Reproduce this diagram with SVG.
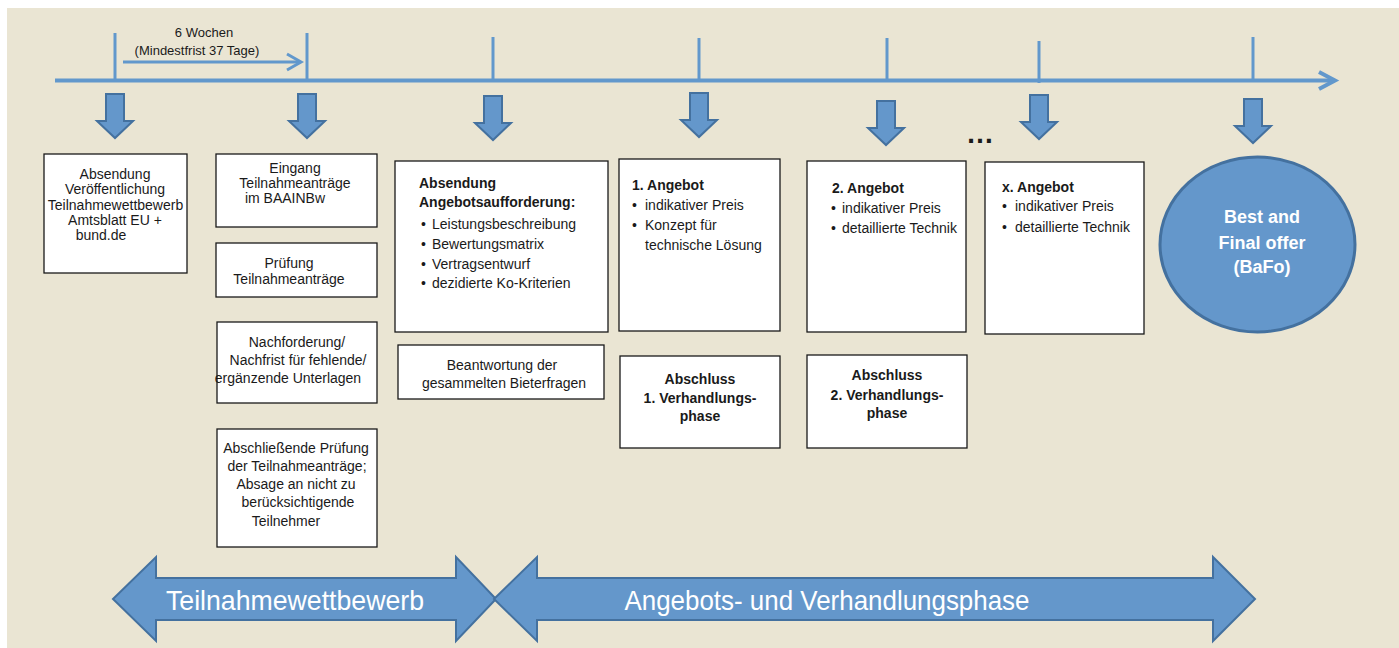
<svg xmlns="http://www.w3.org/2000/svg" width="1399" height="648" viewBox="0 0 1399 648">
<defs>
<style>
.bg{fill:#EAE5D3}
.box{fill:#ffffff;stroke:#1a1a1a;stroke-width:1.3}
.t{font-family:"Liberation Sans",Arial,sans-serif;font-size:14px;fill:#1a1a1a}
.c{text-anchor:middle}
.b{font-weight:bold}
.tl{fill:none;stroke:#6298CC;stroke-width:4}
.tk{fill:none;stroke:#6298CC;stroke-width:3}
.blk{fill:#6497CB;stroke:#44719F;stroke-width:2;stroke-linejoin:miter}
.w{font-family:"Liberation Sans",Arial,sans-serif;fill:#ffffff}
</style>
<path id="darr" d="M-9,0 H9 V27 H18 L0,44 L-18,27 H-9 Z"/>
</defs>
<rect class="bg" x="7" y="8" width="1392" height="640"/>

<g id="connectors">
  <line class="tl" x1="55" y1="80.5" x2="1333" y2="80.5"/>
  <polyline class="tl" points="1319,72 1335,80.5 1319,89"/>
  <line class="tk" x1="115" y1="33" x2="115" y2="80"/>
  <line class="tk" x1="307" y1="33" x2="307" y2="80"/>
  <line class="tk" x1="493" y1="37" x2="493" y2="80"/>
  <line class="tk" x1="699" y1="38" x2="699" y2="80"/>
  <line class="tk" x1="887" y1="38" x2="887" y2="80"/>
  <line class="tk" x1="1039" y1="41" x2="1039" y2="83"/>
  <line class="tk" x1="1253" y1="37" x2="1253" y2="80"/>
  <line class="tk" x1="123" y1="62" x2="300" y2="62"/>
  <polyline class="tk" points="287,54 301,62 287,70"/>
  <use href="#darr" class="blk" x="115" y="94"/>
  <use href="#darr" class="blk" x="307" y="94"/>
  <use href="#darr" class="blk" x="493" y="96"/>
  <use href="#darr" class="blk" x="699" y="93"/>
  <use href="#darr" class="blk" x="886" y="101"/>
  <use href="#darr" class="blk" x="1039" y="95"/>
  <use href="#darr" class="blk" x="1253" y="99"/>
</g>

<g id="label-6wochen">
  <text class="t c" x="204" y="37" style="font-size:13px">6 Wochen</text>
  <text class="t c" x="197" y="55" style="font-size:13px">(Mindestfrist 37 Tage)</text>
</g>

<g id="ellipsis">
  <text class="t b" x="966" y="143" style="font-size:28px">…</text>
</g>

<g id="box-absendung">
  <rect class="box" x="44" y="154" width="143" height="119"/>
  <text class="t c" x="115" y="179">Absendung</text>
  <text class="t c" x="115" y="194">Veröffentlichung</text>
  <text class="t c" x="115.5" y="210">Teilnahmewettbewerb</text>
  <text class="t c" x="115" y="225">Amtsblatt EU +</text>
  <text class="t c" x="101" y="240">bund.de</text>
</g>

<g id="box-eingang">
  <rect class="box" x="216" y="154" width="161" height="73"/>
  <text class="t c" x="295" y="173">Eingang</text>
  <text class="t c" x="295" y="188">Teilnahmeanträge</text>
  <text class="t c" x="285" y="203">im BAAINBw</text>
</g>

<g id="box-pruefung">
  <rect class="box" x="216" y="243" width="161" height="54"/>
  <text class="t c" x="289" y="268">Prüfung</text>
  <text class="t c" x="289" y="284">Teilnahmeanträge</text>
</g>

<g id="box-nachforderung">
  <rect class="box" x="217" y="322" width="160" height="81"/>
  <text class="t c" x="297" y="347">Nachforderung/</text>
  <text class="t c" x="298" y="365">Nachfrist für fehlende/</text>
  <text class="t c" x="288" y="383">ergänzende Unterlagen</text>
</g>

<g id="box-abschliessende">
  <rect class="box" x="217" y="429" width="160" height="118"/>
  <text class="t c" x="296" y="453">Abschließende Prüfung</text>
  <text class="t c" x="297" y="471">der Teilnahmeanträge;</text>
  <text class="t c" x="296" y="489">Absage an nicht zu</text>
  <text class="t c" x="298" y="507">berücksichtigende</text>
  <text class="t c" x="286" y="526">Teilnehmer</text>
</g>

<g id="box-angebotsaufforderung">
  <rect class="box" x="395" y="161" width="213" height="171"/>
  <text class="t b" x="419" y="188">Absendung</text>
  <text class="t b" x="419" y="207">Angebotsaufforderung:</text>
  <text class="t" x="421" y="229">•</text><text class="t" x="432" y="229">Leistungsbeschreibung</text>
  <text class="t" x="421" y="249">•</text><text class="t" x="432" y="249">Bewertungsmatrix</text>
  <text class="t" x="421" y="269">•</text><text class="t" x="432" y="269">Vertragsentwurf</text>
  <text class="t" x="421" y="288">•</text><text class="t" x="432" y="288">dezidierte Ko-Kriterien</text>
</g>

<g id="box-bieterfragen">
  <rect class="box" x="398" y="345" width="206" height="54"/>
  <text class="t c" x="502" y="370">Beantwortung der</text>
  <text class="t c" x="504" y="388">gesammelten Bieterfragen</text>
</g>

<g id="box-angebot1">
  <rect class="box" x="619" y="159" width="161" height="172"/>
  <text class="t b" x="632" y="190">1. Angebot</text>
  <text class="t" x="632" y="210">•</text><text class="t" x="645" y="210">indikativer Preis</text>
  <text class="t" x="632" y="230">•</text><text class="t" x="645" y="230">Konzept für</text>
  <text class="t" x="645" y="250">technische Lösung</text>
</g>

<g id="box-abschluss1">
  <rect class="box" x="620" y="356" width="160" height="92"/>
  <text class="t b c" x="700" y="384">Abschluss</text>
  <text class="t b c" x="700" y="403">1. Verhandlungs-</text>
  <text class="t b c" x="700" y="421">phase</text>
</g>

<g id="box-angebot2">
  <rect class="box" x="807" y="161" width="159" height="171"/>
  <text class="t b" x="832" y="193">2. Angebot</text>
  <text class="t" x="831" y="213">•</text><text class="t" x="842" y="213">indikativer Preis</text>
  <text class="t" x="831" y="233">•</text><text class="t" x="842" y="233">detaillierte Technik</text>
</g>

<g id="box-abschluss2">
  <rect class="box" x="807" y="355" width="160" height="93"/>
  <text class="t b c" x="887" y="380">Abschluss</text>
  <text class="t b c" x="887" y="400">2. Verhandlungs-</text>
  <text class="t b c" x="887" y="418">phase</text>
</g>

<g id="box-angebotx">
  <rect class="box" x="985" y="162" width="159" height="172"/>
  <text class="t b" x="1002" y="192">x. Angebot</text>
  <text class="t" x="1002" y="211">•</text><text class="t" x="1015" y="211">indikativer Preis</text>
  <text class="t" x="1002" y="232">•</text><text class="t" x="1015" y="232">detaillierte Technik</text>
</g>

<g id="node-bafo">
  <ellipse cx="1257.5" cy="244.5" rx="97.5" ry="87.5" fill="#6497CB" stroke="#44719F" stroke-width="3"/>
  <text class="w b c" x="1262" y="223" style="font-size:18px">Best and</text>
  <text class="w b c" x="1262" y="249" style="font-size:18px">Final offer</text>
  <text class="w b c" x="1262" y="273" style="font-size:18px">(BaFo)</text>
</g>

<g id="phase-teilnahme">
  <path class="blk" d="M113,599 L156,557 V578 H456 V557 L496,599 L456,641 V620 H156 V641 Z" stroke-width="3"/>
  <text class="w c" x="295" y="610" style="font-size:28px" textLength="258" lengthAdjust="spacingAndGlyphs">Teilnahmewettbewerb</text>
</g>

<g id="phase-angebot">
  <path class="blk" d="M494,599 L537,557 V578 H1213 V557 L1255,599 L1213,641 V620 H537 V641 Z" stroke-width="3"/>
  <text class="w c" x="827" y="610" style="font-size:28px" textLength="405" lengthAdjust="spacingAndGlyphs">Angebots- und Verhandlungsphase</text>
</g>
</svg>
